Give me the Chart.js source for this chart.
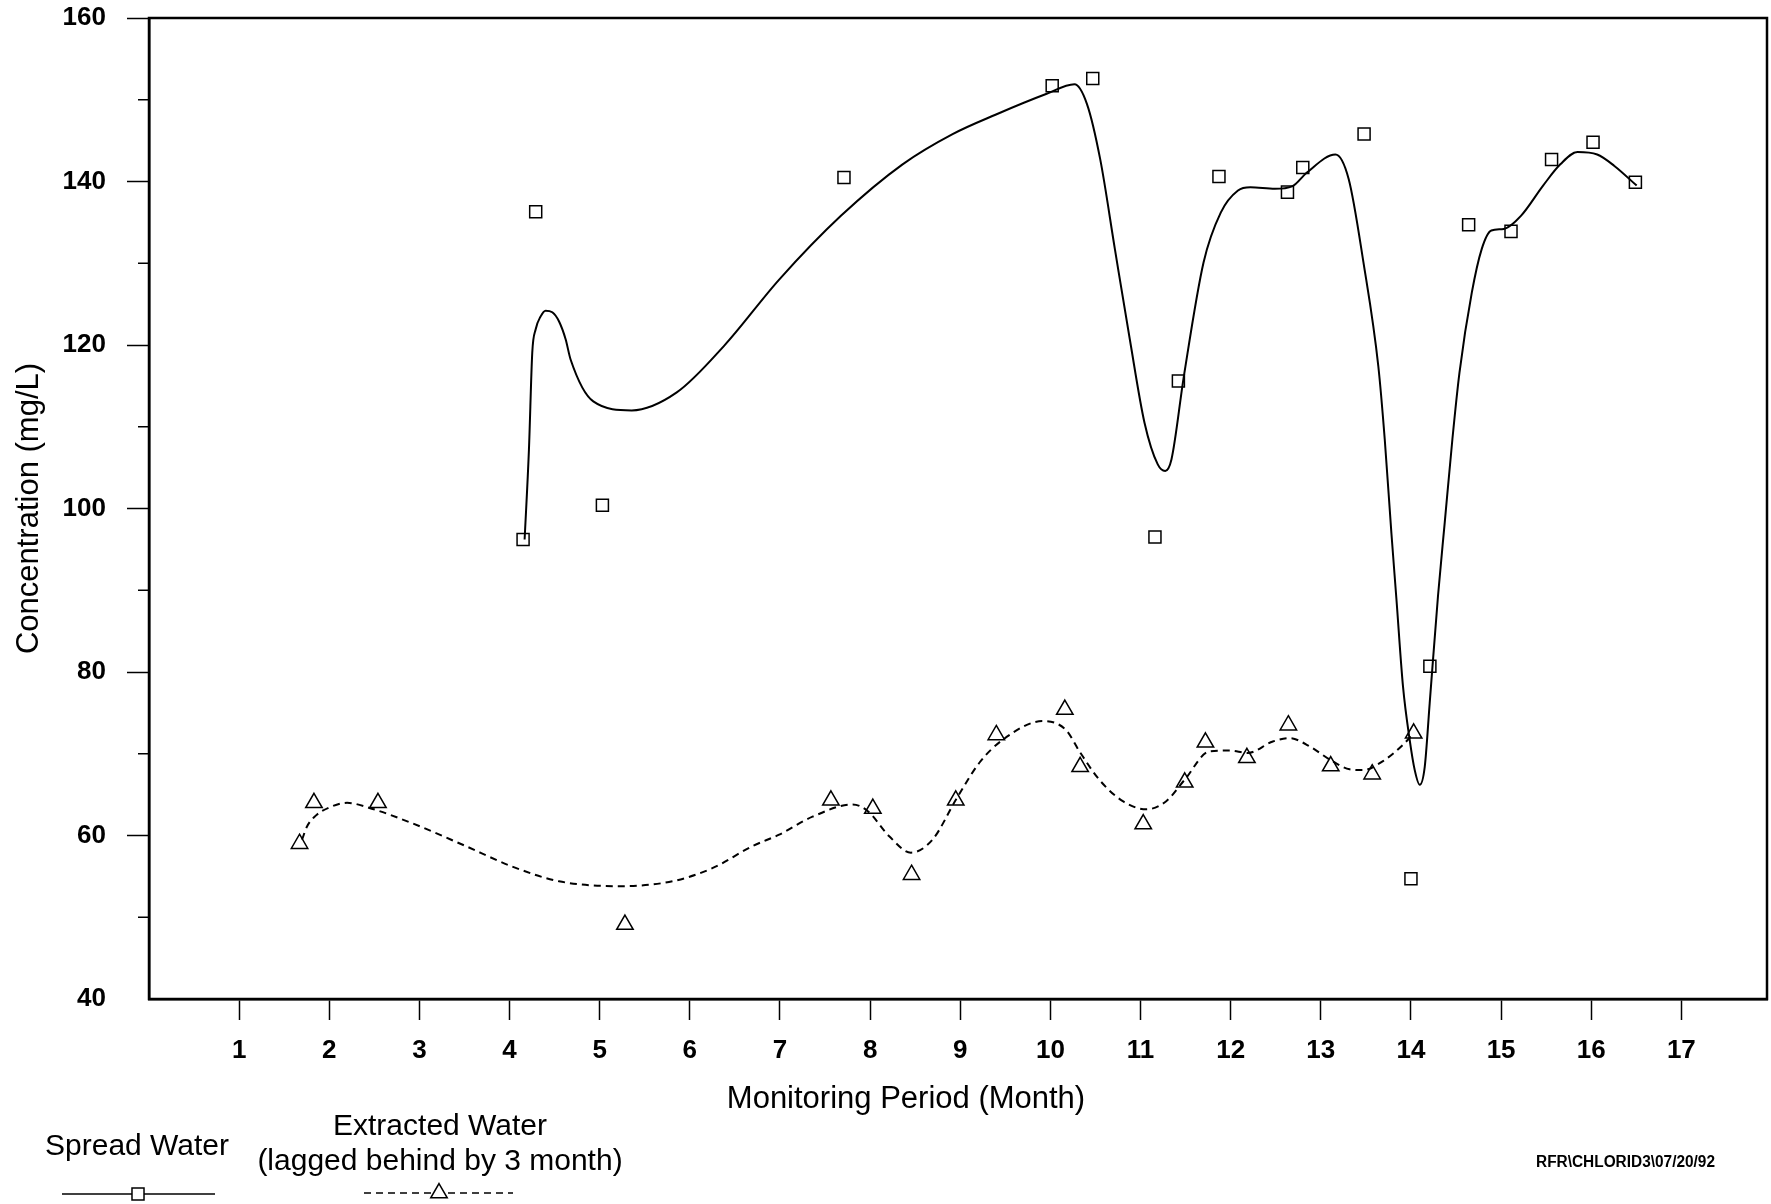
<!DOCTYPE html>
<html>
<head>
<meta charset="utf-8">
<script src="https://cdn.jsdelivr.net/npm/chart.js@4/dist/chart.umd.min.js"></script>
<style>
  html, body { margin: 0; padding: 0; background: #fff; }
  #wrap { width: 1771px; height: 1204px; }
</style>
</head>
<body>
<div id="wrap"><canvas id="chart" width="1771" height="1204"></canvas></div>
<script>
// measured samples (squares / triangles)
const spreadMonth = [4.15, 4.29, 5.03, 7.71, 10.02, 10.47, 11.16, 11.42, 11.87, 12.63, 12.80, 13.48, 14.00, 14.21, 14.64, 15.11, 15.56, 16.02, 16.49];
const spreadConc = [96.2, 136.3, 100.4, 140.5, 151.7, 152.6, 96.5, 115.6, 140.6, 138.7, 141.7, 145.8, 54.7, 80.7, 134.7, 133.9, 142.7, 144.8, 139.9];

const extractedMonth = [1.67, 1.83, 2.54, 5.28, 7.565, 8.03, 8.46, 8.95, 9.40, 10.16, 10.33, 11.03, 11.49, 11.72, 12.18, 12.64, 13.11, 13.57, 14.03];
const extractedConc = [59.0, 64.0, 64.0, 49.1, 64.3, 63.3, 55.2, 64.3, 72.3, 75.4, 68.4, 61.4, 66.5, 71.4, 69.5, 73.5, 68.5, 67.5, 72.5];

// smoothed curves
const spreadCurveMonth = [4.167, 4.215, 4.252, 4.289, 4.345, 4.400, 4.474, 4.548, 4.622, 4.678, 4.929, 5.355, 5.855, 6.380, 6.991, 7.676, 8.360, 8.915, 9.397, 9.952, 10.267, 10.405, 10.553, 10.716, 10.881, 11.044, 11.191, 11.274, 11.343, 11.481, 11.699, 11.890, 12.081, 12.218, 12.491, 12.682, 12.846, 13.162, 13.309, 13.473, 13.638, 13.709, 13.783, 13.839, 13.912, 13.986, 14.042, 14.097, 14.153, 14.208, 14.300, 14.375, 14.460, 14.538, 14.675, 14.784, 14.892, 15.029, 15.220, 15.466, 15.657, 15.848, 16.066, 16.257, 16.504];
const spreadCurveConc = [96.2, 107.2, 119.1, 121.9, 123.5, 124.2, 124.0, 122.9, 120.7, 118.2, 113.1, 112.0, 114.2, 119.9, 128.0, 135.8, 142.1, 145.8, 148.2, 150.7, 151.9, 149.5, 142.7, 131.7, 120.7, 110.5, 105.4, 104.6, 106.0, 116.2, 130.1, 136.2, 138.9, 139.3, 139.1, 139.4, 141.1, 143.3, 140.3, 130.1, 117.4, 108.5, 97.0, 88.9, 78.2, 71.7, 68.0, 66.2, 68.4, 76.2, 89.3, 98.3, 108.5, 116.6, 126.4, 131.7, 134.0, 134.2, 135.8, 139.5, 142.1, 143.6, 143.3, 141.9, 139.5];

const extractedCurveMonth = [1.698, 1.753, 1.847, 1.994, 2.198, 2.438, 2.919, 3.474, 4.030, 4.548, 5.214, 5.806, 6.250, 6.694, 6.991, 7.361, 7.805, 7.972, 8.212, 8.453, 8.693, 8.953, 9.212, 9.471, 9.915, 10.174, 10.322, 10.544, 10.803, 11.063, 11.285, 11.488, 11.766, 11.988, 12.191, 12.468, 12.655, 12.877, 13.098, 13.320, 13.468, 13.690, 13.912, 14.03];
const extractedCurveConc = [59.5, 61.1, 62.4, 63.4, 64.0, 63.4, 61.5, 58.9, 56.2, 54.4, 53.8, 54.4, 56.0, 58.7, 60.1, 62.3, 63.8, 63.0, 59.9, 57.9, 59.5, 64.4, 68.9, 71.7, 74.0, 72.9, 70.3, 66.8, 64.2, 63.2, 64.2, 66.8, 70.3, 70.4, 70.1, 71.5, 71.9, 70.9, 69.3, 68.1, 68.0, 69.1, 71.1, 72.5];

const monthTicks = [1, 2, 3, 4, 5, 6, 7, 8, 9, 10, 11, 12, 13, 14, 15, 16, 17];
const concTicks = [40, 60, 80, 100, 120, 140, 160];
const concMinorTicks = [50, 70, 90, 110, 130, 150];

const FONT = '"Liberation Sans", Arial, Helvetica, sans-serif';
const toPoints = (xs, ys) => xs.map((x, i) => ({ x, y: ys[i] }));

// box around the plot + short minor ticks on the y axis
const framePlugin = {
  id: "frame",
  afterDraw(chart) {
    const { ctx, chartArea: a, scales } = chart;
    ctx.save();
    ctx.strokeStyle = "#000";
    ctx.lineWidth = 2.5;
    ctx.strokeRect(a.left, a.top, a.right - a.left, a.bottom - a.top);
    ctx.lineWidth = 1.5;
    concMinorTicks.forEach(v => {
      const y = scales.y.getPixelForValue(v);
      ctx.beginPath();
      ctx.moveTo(a.left - 11, y);
      ctx.lineTo(a.left, y);
      ctx.stroke();
    });
    ctx.restore();
  },
};

// x title, legend block and file stamp under the axis
const notesPlugin = {
  id: "notes",
  afterDraw(chart) {
    const { ctx } = chart;
    const P = Chart.helpers;
    ctx.save();
    ctx.fillStyle = "#000";
    ctx.textAlign = "center";
    ctx.textBaseline = "alphabetic";

    ctx.font = `31px ${FONT}`;
    ctx.fillText("Monitoring Period (Month)", 906, 1108);

    ctx.font = `30px ${FONT}`;
    ctx.fillText("Spread Water", 137, 1155);
    ctx.fillText("Extracted Water", 440, 1135);
    ctx.fillText("(lagged behind by 3 month)", 440, 1170);

    ctx.strokeStyle = "#000";
    ctx.lineWidth = 1.5;
    ctx.beginPath();
    ctx.moveTo(62, 1194);
    ctx.lineTo(215, 1194);
    ctx.stroke();
    ctx.setLineDash([7, 5]);
    ctx.beginPath();
    ctx.moveTo(364, 1193);
    ctx.lineTo(513, 1193);
    ctx.stroke();
    ctx.setLineDash([]);

    ctx.fillStyle = "#fff";
    P.drawPoint(ctx, { pointStyle: "rect", radius: 8.5, borderWidth: 1.5, rotation: 0 }, 138, 1194);
    P.drawPoint(ctx, { pointStyle: "triangle", radius: 9.5, borderWidth: 1.5, rotation: 0 }, 439, 1193);

    ctx.fillStyle = "#000";
    ctx.textAlign = "left";
    ctx.font = `bold 16px ${FONT}`;
    ctx.fillText("RFR\\CHLORID3\\07/20/92", 1536, 1167, 179);
    ctx.restore();
  },
};

new Chart(document.getElementById("chart"), {
  type: "scatter",
  data: {
    datasets: [
      {
        type: "line",
        label: "Spread Water fit",
        data: toPoints(spreadCurveMonth, spreadCurveConc),
        borderColor: "#000",
        borderWidth: 2,
        pointRadius: 0,
        cubicInterpolationMode: "monotone",
        fill: false,
      },
      {
        type: "line",
        label: "Extracted Water fit",
        data: toPoints(extractedCurveMonth, extractedCurveConc),
        borderColor: "#000",
        borderWidth: 2,
        borderDash: [7, 5],
        pointRadius: 0,
        cubicInterpolationMode: "monotone",
        fill: false,
      },
      {
        label: "Spread Water",
        data: toPoints(spreadMonth, spreadConc),
        pointStyle: "rect",
        pointRadius: 8.5,
        borderColor: "#000",
        borderWidth: 1.5,
        backgroundColor: "rgba(0,0,0,0)",
      },
      {
        label: "Extracted Water (lagged behind by 3 month)",
        data: toPoints(extractedMonth, extractedConc),
        pointStyle: "triangle",
        pointRadius: 9.5,
        borderColor: "#000",
        borderWidth: 1.5,
        backgroundColor: "rgba(0,0,0,0)",
      },
    ],
  },
  options: {
    responsive: false,
    animation: false,
    devicePixelRatio: 1,
    layout: { autoPadding: false, padding: { top: 18, right: 4, left: 0, bottom: 0 } },
    plugins: { legend: { display: false }, tooltip: { enabled: false } },
    scales: {
      x: {
        type: "linear",
        min: 0,
        max: 17.95,
        afterBuildTicks: s => { s.ticks = monthTicks.map(v => ({ value: v })); },
        afterFit: s => {
          s.height = 205;
          s.paddingLeft = 0;
          s.paddingRight = 0;
        },
        grid: { drawOnChartArea: false, tickLength: 21, tickWidth: 1.5, tickColor: "#000" },
        border: { color: "#000", width: 2.5 },
        ticks: { color: "#000", font: { family: FONT, size: 26, weight: "bold" }, padding: 15, maxRotation: 0, autoSkip: false },
      },
      y: {
        type: "linear",
        min: 40,
        max: 160,
        afterBuildTicks: s => { s.ticks = concTicks.map(v => ({ value: v })); },
        afterFit: s => {
          s.width = 149;
          s.paddingTop = 0;
          s.paddingBottom = 0;
        },
        grid: {
          drawOnChartArea: false,
          tickLength: 22,
          tickWidth: 1.5,
          tickColor: c => (c.tick && c.tick.value === 40 ? "rgba(0,0,0,0)" : "#000"),
        },
        border: { color: "#000", width: 2.5 },
        ticks: { color: "#000", font: { family: FONT, size: 26, weight: "bold" }, padding: 21 },
        title: {
          display: true,
          text: "Concentration (mg/L)",
          color: "#000",
          font: { family: FONT, size: 31 },
          padding: { top: 11, bottom: 0 },
        },
      },
    },
  },
  plugins: [framePlugin, notesPlugin],
});
</script>
</body>
</html>
